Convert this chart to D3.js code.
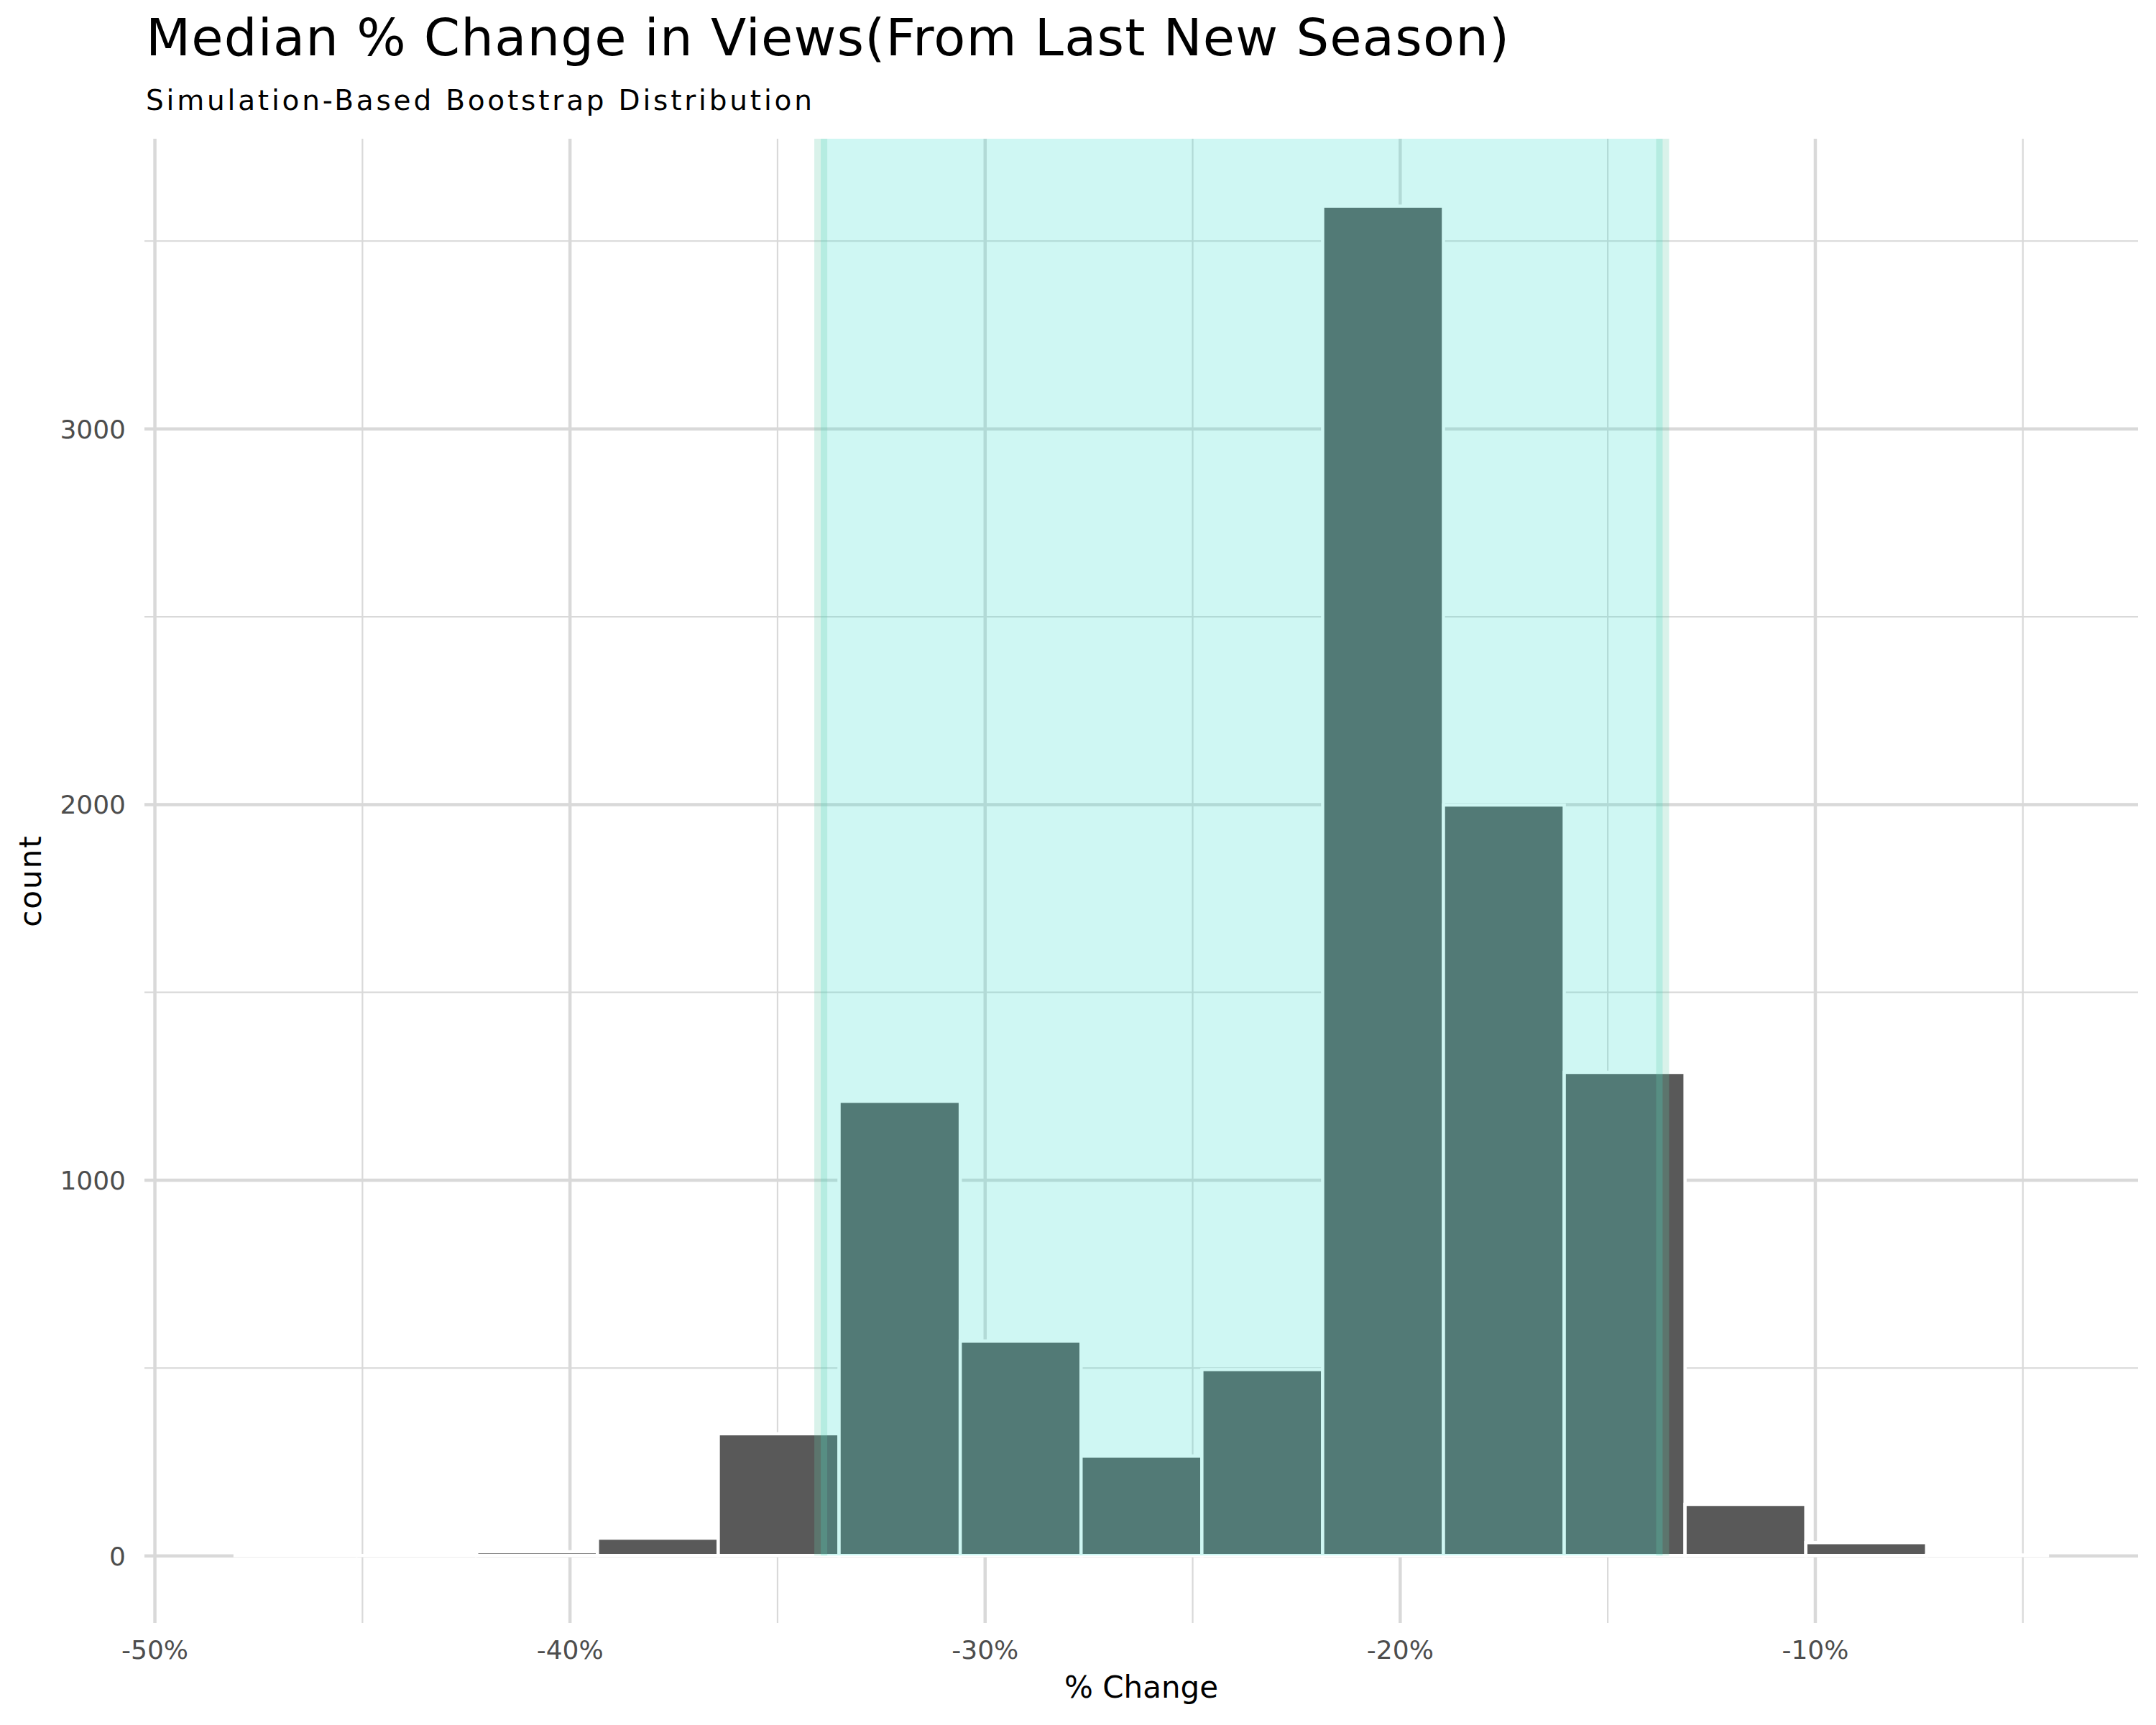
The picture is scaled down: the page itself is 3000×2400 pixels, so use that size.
<!DOCTYPE html>
<html>
<head>
<meta charset="utf-8">
<script src="https://cdn.jsdelivr.net/npm/d3@7"></script>
<style>
  body { margin: 0; background: #ffffff; }
</style>
</head>
<body>
<script>
// Bootstrap distribution of the median % change (15 bins)
const binEdges = [
  -48.06, -45.15, -42.24, -39.33, -36.42, -33.51, -30.59, -27.68,
  -24.77, -21.86, -18.95, -16.04, -13.13, -10.22, -7.31, -4.4,
];
const binCounts = [1, 0, 10, 46, 324, 1209, 571, 265, 495, 3592, 1998, 1286, 136, 34, 1];

// 95% confidence interval endpoints (% change)
const ciBounds = [-33.95, -13.67];

// Tick values
const xMajorTicks = [-50, -40, -30, -20, -10];
const xMinorTicks = [-45, -35, -25, -15, -5];
const yMajorTicks = [0, 1000, 2000, 3000];
const yMinorTicks = [500, 1500, 2500, 3500];

const titleText = "Median % Change in Views(From Last New Season)";
const subtitleText = "Simulation-Based Bootstrap Distribution";
const xTitle = "% Change";
const yTitle = "count";

/*
 * ========================================================================
 *  Setup
 * ========================================================================
 */
const width = 3000;
const height = 2400;
const panel = { left: 201, right: 2975, top: 193, bottom: 2258 };
const font = '"DejaVu Sans", sans-serif';
const gridColor = "#d9d9d9";

const bins = binCounts.map((c, i) => ({ x0: binEdges[i], x1: binEdges[i + 1], count: c }));

const svg = d3
  .select("body")
  .append("svg")
  .attr("width", width)
  .attr("height", height)
  .style("font-family", font);

svg.append("rect").attr("width", width).attr("height", height).attr("fill", "#ffffff");

// ggplot style 5% expansion on both scales
const xExtent = [binEdges[0], binEdges[binEdges.length - 1]];
const xPad = (xExtent[1] - xExtent[0]) * 0.05;
const xScale = d3
  .scaleLinear()
  .domain([xExtent[0] - xPad, xExtent[1] + xPad])
  .range([panel.left, panel.right]);

const yMax = d3.max(binCounts);
const yScale = d3
  .scaleLinear()
  .domain([-yMax * 0.05, yMax * 1.05])
  .range([panel.bottom, panel.top]);

/*
 * ========================================================================
 *  Grid
 * ========================================================================
 */
function gridX(ticks, strokeWidth) {
  const g = svg
    .append("g")
    .attr("transform", `translate(0,${panel.bottom})`)
    .call(d3.axisBottom(xScale).tickValues(ticks).tickSize(-(panel.bottom - panel.top)).tickFormat(""));
  g.select(".domain").remove();
  g.selectAll("line").attr("stroke", gridColor).attr("stroke-width", strokeWidth);
}

function gridY(ticks, strokeWidth) {
  const g = svg
    .append("g")
    .attr("transform", `translate(${panel.left},0)`)
    .call(d3.axisLeft(yScale).tickValues(ticks).tickSize(-(panel.right - panel.left)).tickFormat(""));
  g.select(".domain").remove();
  g.selectAll("line").attr("stroke", gridColor).attr("stroke-width", strokeWidth);
}

gridY(yMinorTicks, 2.2);
gridX(xMinorTicks, 2.2);
gridY(yMajorTicks, 4.5);
gridX(xMajorTicks, 4.5);

/*
 * ========================================================================
 *  Bars
 * ========================================================================
 */
// paths instead of rects so empty bins still draw their outline
svg
  .append("g")
  .selectAll("path")
  .data(bins)
  .enter()
  .append("path")
  .attr("d", (d) =>
    `M${xScale(d.x0)},${yScale(0)}V${yScale(d.count)}H${xScale(d.x1)}V${yScale(0)}Z`
  )
  .attr("fill", "#595959")
  .attr("stroke", "#ffffff")
  .attr("stroke-width", 4.5);

/*
 * ========================================================================
 *  Confidence interval shade
 * ========================================================================
 */
svg
  .append("rect")
  .attr("x", xScale(ciBounds[0]))
  .attr("y", panel.top)
  .attr("width", xScale(ciBounds[1]) - xScale(ciBounds[0]))
  .attr("height", yScale(0) - panel.top)
  .attr("fill", "turquoise")
  .attr("fill-opacity", 0.25);

svg
  .append("g")
  .selectAll("line")
  .data(ciBounds)
  .enter()
  .append("line")
  .attr("x1", (d) => xScale(d))
  .attr("x2", (d) => xScale(d))
  .attr("y1", panel.top)
  .attr("y2", yScale(0))
  .attr("stroke", "mediumaquamarine")
  .attr("stroke-opacity", 0.25)
  .attr("stroke-width", 18);

/*
 * ========================================================================
 *  Axes
 * ========================================================================
 */
const xAxis = svg
  .append("g")
  .attr("transform", `translate(0,${panel.bottom})`)
  .call(
    d3.axisBottom(xScale).tickValues(xMajorTicks).tickSize(0).tickPadding(24)
      .tickFormat((d) => `${d}%`)
  );
xAxis.select(".domain").remove();
xAxis.selectAll("text")
  .style("font-family", font)
  .style("font-size", "36px")
  .attr("fill", "#4d4d4d");

const yAxis = svg
  .append("g")
  .attr("transform", `translate(${panel.left},0)`)
  .call(d3.axisLeft(yScale).tickValues(yMajorTicks).tickSize(0).tickPadding(26).tickFormat(d3.format("d")));
yAxis.select(".domain").remove();
yAxis.selectAll("text")
  .style("font-family", font)
  .style("font-size", "36px")
  .attr("dy", "0.36em")
  .attr("fill", "#4d4d4d");

/*
 * ========================================================================
 *  Labels
 * ========================================================================
 */
svg
  .append("text")
  .attr("x", 203)
  .attr("y", 77)
  .style("font-size", "72px")
  .style("letter-spacing", "1.2px")
  .attr("fill", "#000000")
  .text(titleText);

svg
  .append("text")
  .attr("x", 203)
  .attr("y", 153)
  .style("font-size", "39px")
  .style("letter-spacing", "3.8px")
  .attr("fill", "#000000")
  .text(subtitleText);

svg
  .append("text")
  .attr("x", (panel.left + panel.right) / 2)
  .attr("y", 2362)
  .attr("text-anchor", "middle")
  .style("font-size", "42px")
  .attr("fill", "#000000")
  .text(xTitle);

svg
  .append("text")
  .attr("transform", `translate(57,${(panel.top + panel.bottom) / 2}) rotate(-90)`)
  .attr("text-anchor", "middle")
  .style("font-size", "42px")
  .style("letter-spacing", "2px")
  .attr("fill", "#000000")
  .text(yTitle);
</script>
</body>
</html>
